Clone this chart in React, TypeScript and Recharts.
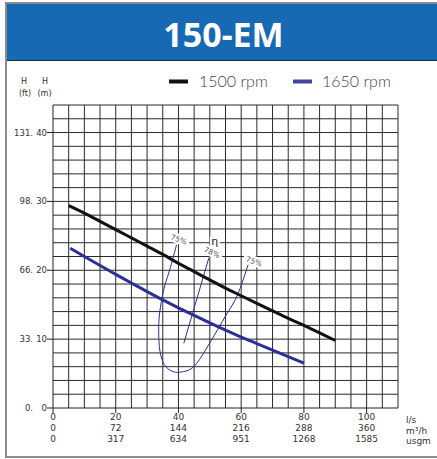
import { LineChart, Line, XAxis, YAxis, ReferenceLine, ReferenceDot } from 'recharts';

// head curves (flow l/s, head m)
const flow1500 = [5, 10, 15, 20, 25, 30, 35, 40, 45, 50, 55, 60, 65, 70, 75, 80, 85, 90];
const head1500 = [29.4, 28.3, 27.1, 25.9, 24.7, 23.5, 22.3, 21.0, 19.8, 18.6, 17.4, 16.3, 15.2, 14.1, 13.0, 12.0, 10.9, 9.8];
const flow1650 = [5.5, 10, 15, 20, 25, 30, 35, 40, 45, 50, 55, 60, 65, 70, 75, 80];
const head1650 = [23.2, 22.0, 20.7, 19.4, 18.15, 16.9, 15.7, 14.55, 13.45, 12.35, 11.3, 10.3, 9.35, 8.4, 7.45, 6.5];

// efficiency curves
const eff75Flow = [39.4, 36.9, 35.3, 34.0, 33.7, 33.9, 34.8, 36.4, 39.0, 41.7, 44.9, 48.6, 52.4, 55.6, 58.8, 62.2];
const eff75Head = [23.7, 19.6, 17.2, 13.8, 11.3, 8.9, 7.0, 5.8, 5.2, 5.3, 6.0, 8.4, 11.3, 13.8, 16.4, 20.8];
const eff78Flow = [41.7, 49.7];
const eff78Head = [9.4, 21.8];

const effLabelText = ['75%', 'η', '78%', '75%'];
const effLabelFlow = [40, 51.6, 50.6, 64];
const effLabelHead = [24.4, 24.0, 22.5, 21.2];
const effLabelAngle = [20, 0, 25, 20];

const seriesNames = ['1500 rpm', '1650 rpm'];
const seriesColors = ['#111111', '#2d2f98'];

const lsTicks = [0, 20, 40, 60, 80, 100];
const m3hTicks = ['0', '72', '144', '216', '288', '360'];
const usgmTicks = ['0', '317', '634', '951', '1268', '1585'];
const mTicks = [0, 10, 20, 30, 40];
const ftTicks = ['0.', '33.', '66.', '98.', '131.'];

// grid every 5 l/s and every 2 m
const gridX = [5, 10, 15, 20, 25, 30, 35, 40, 45, 50, 55, 60, 65, 70, 75, 80, 85, 90, 95, 100, 105, 110];
const gridY = [2, 4, 6, 8, 10, 12, 14, 16, 18, 20, 22, 24, 26, 28, 30, 32, 34, 36, 38, 40, 42, 44];

const pts = (q: number[], h: number[]) => q.map((v, i) => ({ q: v, h: h[i] }));

const XTick = (props: any) => {
  const { x, y, index } = props;
  return (
    <g fontSize={9} fill="#333" fontFamily="DejaVu Sans" textAnchor="middle">
      <text x={x} y={y + 5}>{lsTicks[index]}</text>
      <text x={x} y={y + 16}>{m3hTicks[index]}</text>
      <text x={x} y={y + 27}>{usgmTicks[index]}</text>
    </g>
  );
};

const YTick = (props: any) => {
  const { x, y, index } = props;
  return (
    <g fontSize={8.5} fill="#333" fontFamily="DejaVu Sans" textAnchor="end">
      <text x={x - 12} y={y + 3}>{ftTicks[index]}</text>
      <text x={x + 2} y={y + 3}>{mTicks[index]}</text>
    </g>
  );
};

const effLabel = (i: number) => (p: any) => {
  const t = effLabelText[i];
  const w = t.length * 6 + 4;
  const eta = t === 'η';
  return (
    <g transform={`rotate(${effLabelAngle[i]} ${p.cx} ${p.cy})`}>
      <rect x={p.cx - w / 2} y={p.cy - 6} width={w} height={10} fill="#fff" />
      <text x={p.cx} y={p.cy + 2} textAnchor="middle" fontSize={eta ? 11 : 7.5} fill={eta ? '#222' : '#555'} fontFamily="DejaVu Sans">
        {t}
      </text>
    </g>
  );
};

export default function App() {
  return (
    <div style={{ position: 'absolute', left: 0, top: 0, width: 437, height: 459, overflow: 'hidden', background: '#fff' }}>
      <svg width={437} height={459} style={{ position: 'absolute', left: 0, top: 0 }}>
        <rect x={6} y={3} width={440} height={454} fill="none" stroke="#8c8c8c" strokeWidth={2} />
        <rect x={7} y={4} width={433} height={56} fill="#1669b2" />
        <line x1={7} x2={440} y1={60.5} y2={60.5} stroke="#1d2b3c" strokeWidth={1.2} />
        <text x={223.5} y={47} textAnchor="middle" fill="#fff" fontFamily="Noto Sans" fontWeight={700} fontSize={34}>
          150-EM
        </text>
        <g fontFamily="DejaVu Sans" fontSize={8} fill="#333" textAnchor="middle">
          <text x={24} y={84}>H</text>
          <text x={25} y={96}>(ft)</text>
          <text x={45} y={84}>H</text>
          <text x={44.5} y={96}>(m)</text>
        </g>
        {seriesNames.map((n, i) => (
          <g key={n}>
            <rect x={169 + i * 124} y={79.5} width={19} height={4} fill={seriesColors[i]} opacity={i ? 0.9 : 1} />
            <text x={199 + i * 123} y={87} fontFamily="Lato" fontWeight={300} fontSize={16} fill="#444">{n}</text>
          </g>
        ))}
        <g fontFamily="DejaVu Sans" fontSize={9} fill="#333">
          <text x={406} y={423}>l/s</text>
          <text x={406} y={434}>m³/h</text>
          <text x={406} y={444}>usgm</text>
        </g>
      </svg>
      <div style={{ position: 'absolute', left: 0, top: 0 }}>
        <LineChart width={437} height={459} margin={{ top: 105, right: 39, left: 8, bottom: 11 }}>
          <XAxis
            type="number"
            dataKey="q"
            domain={[0, 110]}
            ticks={lsTicks}
            height={40}
            tick={<XTick />}
            tickSize={5}
            tickMargin={2}
            stroke="#222"
            allowDataOverflow
          />
          <YAxis
            type="number"
            dataKey="h"
            domain={[0, 44]}
            ticks={mTicks}
            width={45}
            tick={<YTick />}
            tickSize={6}
            tickMargin={2}
            stroke="#222"
            allowDataOverflow
          />
          {gridX.map((v) => (
            <ReferenceLine key={'x' + v} x={v} stroke="#2a2a2a" strokeWidth={1} />
          ))}
          {gridY.map((v) => (
            <ReferenceLine key={'y' + v} y={v} stroke="#2a2a2a" strokeWidth={1} />
          ))}
          <Line data={pts(eff75Flow, eff75Head)} dataKey="h" type="natural" stroke="#2b2d9e" strokeWidth={1} dot={false} isAnimationActive={false} />
          <Line data={pts(eff78Flow, eff78Head)} dataKey="h" type="linear" stroke="#2b2d9e" strokeWidth={1} dot={false} isAnimationActive={false} />
          <Line data={pts(flow1500, head1500)} dataKey="h" name={seriesNames[0]} type="monotone" stroke={seriesColors[0]} strokeWidth={3} dot={false} isAnimationActive={false} />
          <Line data={pts(flow1650, head1650)} dataKey="h" name={seriesNames[1]} type="monotone" stroke={seriesColors[1]} strokeWidth={3} dot={false} isAnimationActive={false} />
          {effLabelText.map((t, i) => (
            <ReferenceDot key={i} x={effLabelFlow[i]} y={effLabelHead[i]} r={0} shape={effLabel(i)} />
          ))}
        </LineChart>
      </div>
    </div>
  );
}
